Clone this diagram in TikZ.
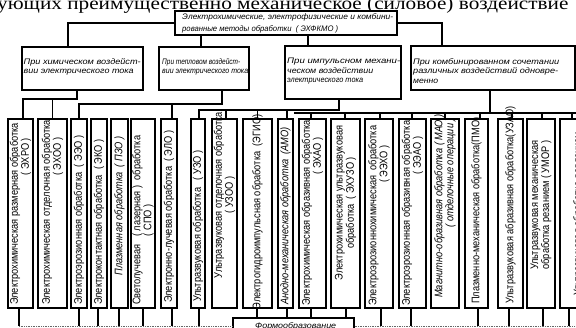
\documentclass[tikz,border=0pt]{standalone}
\usepackage{fontspec}
\usepackage{graphicx}
\setmainfont{Liberation Sans}
\newfontfamily\hdrserif[FakeStretch=1.18]{Liberation Serif}
\newfontfamily\condsans[FakeStretch=0.84]{Liberation Sans}
\newcommand\myvf{\condsans\fontsize{11}{11.2}\selectfont}
\newcommand\myhf{\itshape\fontsize{8}{9.5}\selectfont}
\newcommand\mytf{\itshape\fontsize{8}{12}\selectfont}
\newcommand\fw[2]{\resizebox{#1pt}{\height}{#2}}
\tikzset{
  bx/.style={draw, line width=1.5pt, inner sep=0pt, fill=white},
  ln/.style={line width=1.15pt},
  bl/.style={line width=0.7pt, draw=black!60, densely dotted},
  vt/.style={rotate=90, font=\myvf, inner sep=0pt},
  ht/.style={font=\myhf, align=left, inner sep=0pt, anchor=north west},
}
\newcommand\vbx[3]{\node[bx, minimum width={(#3-#2)*1pt}, minimum height=189pt] (#1) at ({(#2+#3)/2},213.5) {};}
\begin{document}
\begin{tikzpicture}[x=1pt,y=-1pt]
\useasboundingbox (0,0) rectangle (576,327);
\clip (0,0) rectangle (576,327);
\fill[white] (0,0) rectangle (576,327);
% header line (cut)
\node[anchor=base west, inner sep=0pt, font=\hdrserif\fontsize{18}{18}\selectfont] (hdr) at (-3,9) {ующих преимущественно механическое (силовое) воздействие};
% buses
\coordinate (busChem) at (0,99);
\coordinate (busTherm) at (0,104);
\coordinate (busImp) at (0,110);
\coordinate (busComb) at (0,113);
\coordinate (busBot) at (0,326);
% top box
\node[bx, minimum width=222pt, minimum height=24pt] (top) at (286,23) {};
\node[font=\mytf, align=left, inner sep=0pt, anchor=north west] (toptxt) at (182,13.5) {\fw{211}{Электрохимические, электрофизические и комбини-}\\\fw{156}{рованные методы обработки~~( ЭХФКМО )}};
% second level
\node[bx, minimum width=121pt, minimum height=43pt] (b1) at (82.5,68.5) {};
\node[bx, minimum width=90pt, minimum height=43pt] (b2) at (204,68.5) {};
\node[bx, minimum width=116pt, minimum height=53pt] (b3) at (343,72.5) {};
\node[bx, minimum width=164pt, minimum height=44pt] (b4) at (493,68) {};
\node[ht] (t1) at (23.5,58) {\fw{117}{При химическом воздейст-}\\\fw{110}{вии электрического тока}};
\node[ht] (t2) at (162,58) {\fw{78}{При тепловом воздейст-}\\\fw{86}{вии электрического тока}};
\node[ht] (t3) at (287,58) {\fw{113}{При импульсном механи-}\\\fw{86}{ческом воздействии}\\\fw{76}{электрического тока}};
\node[ht] (t4) at (413,58) {\fw{146}{При комбинированном сочетании}\\\fw{145}{различных воздействий одновре-}\\\fw{25}{менно}};
% top connectors
\draw[ln] (top.west) -| ([xshift=-14.5]b1.north);
\draw[ln] (top.east) -| ([xshift=-51]b4.north);
\draw[ln] ([xshift=-3]b2.north) -- ([xshift=-3]b2.north |- top.south);
\draw[ln] ([xshift=-35]b3.north) -- ([xshift=-35]b3.north |- top.south);
% vertical boxes
\vbx{v1}{8}{33}
\vbx{v2}{38}{67}
\vbx{v3}{71}{87}
\vbx{v4}{91}{107}
\vbx{v5}{111}{128}
\vbx{v6}{131}{155}
\vbx{v7}{161}{177}
\vbx{v8}{191}{205}
\vbx{v9}{212}{237}
\vbx{v10}{243}{272}
\vbx{v11}{278}{293}
\vbx{v12}{299}{326}
\vbx{v13}{331}{360}
\vbx{v14}{365}{393}
\vbx{v15}{399}{426}
\vbx{v16}{431}{459}
\vbx{v17}{465}{488}
\vbx{v18}{498}{523}
\vbx{v19}{527}{555}
\vbx{v20}{560}{600}
% vertical texts
\node[vt, anchor=west, align=right] (x1) at (v1 |- 0,305) {Электрохимическая размерная обработка\\( ЭХРО )\hspace*{15pt}};
\node[vt, anchor=west, align=right] (x2) at (v2 |- 0,305) {Электрохимическая отделочная обработка\\( ЭХОО )\hspace*{18pt}};
\node[vt, anchor=west] (x3) at (v3 |- 0,305) {Электроэрозионная обработка~~( ЭЭО )};
\node[vt, anchor=west] (x4) at (v4 |- 0,305) {Электроконтактная обработка~~( ЭКО )};
\node[vt, font=\myvf\itshape] (x5) at (v5 |- 0,206) {Плазменная обработка~~( ПЗО )};
\node[vt, anchor=west, align=center] (x6) at (v6 |- 0,305) {Светолучевая~~~( лазерная )~~обработка\\( СПО )};
\node[vt, anchor=west] (x7) at (v7 |- 0,303) {Электронно-лучевая обработка~~( ЭЛО )};
\node[vt, anchor=west] (x8) at (v8 |- 0,302) {Ультразвуковая обработка~~~( УЗО )};
\node[vt, align=center] (x9) at (v9 |- 0,195) {Ультразвуковая отделочная обработка\\( УЗОО )};
\node[vt] (x10) at (v10 |- 0,212) {Электрогидроимпульсная обработка~~(ЭГИО)};
\node[vt, anchor=west, font=\myvf\itshape] (x11) at (v11 |- 0,305) {Анодно-механическая обработка~~(АМО)};
\node[vt, anchor=west, align=right] (x12) at (v12 |- 0,306) {Электрохимическая образивная обработка\\( ЭХАО )\hspace*{17pt}};
\node[vt, align=center] (x13) at (v13 |- 0,203) {Электрохимическая ультразвуковая\\обработка~~( ЭХУЗО )};
\node[vt, anchor=west, align=right] (x14) at (v14 |- 0,306) {Электроэрозионнохимическая~~обработка\\( ЭЭХО )\hspace*{20pt}};
\node[vt, anchor=west, align=right] (x15) at (v15 |- 0,306) {Электроэрозионная образивная обработка\\( ЭЭАО )\hspace*{16pt}};
\node[vt, anchor=west, align=right, font=\myvf\itshape] (x16) at (v16 |- 0,298) {Магнитно-образивная обработка ( МАО )\\( отделочные операции )\hspace*{4pt}};
\node[vt, anchor=west] (x17) at (v17 |- 0,304) {Плазменно-механическая обработка(ПМО)};
\node[vt, anchor=west] (x18) at (v18 |- 0,304) {Ультразвуковая абразивная обработка(УЗАО)};
\node[vt, align=center] (x19) at (v19 |- 0,205) {Ультразвуковая механическая\\обработка резанием ( УМОР )};
\node[vt, anchor=west, align=center] (x20) at ([xshift=4]v20.center |- 0,296) {Ультразвуковая обработка давлением\\( УМОД )};
% chemical group
\draw[ln] ([xshift=-5.5]b1.south) |- ([xshift=2.5]v1.north |- busChem) -- ([xshift=2.5]v1.north);
\draw[ln] (v2.north) -- (v2.north |- busChem);
% thermal group
\draw[ln] ([xshift=18]b2.south) |- (v3.north |- busTherm) -- (v3.north);
\draw[ln] ([xshift=3]v7.north) -- ([xshift=3]v7.north |- busTherm);
% impulse group
\draw[ln] ([xshift=-4]b3.south) |- ([xshift=1]v8.north |- busImp) -- ([xshift=1]v8.north);
\draw[ln] ([xshift=1.5]v9.north) -- ([xshift=1.5]v9.north |- busImp);
\draw[ln] (v10.north) -- (v10.north |- busImp);
\draw[ln] ([xshift=1.5]v11.north) -- ([xshift=1.5]v11.north |- busImp);
% combined group
\coordinate (combEnd) at (580,113);
\draw[ln] ([xshift=-3]b4.south) -- ([xshift=-3]b4.south |- busComb);
\draw[ln] (v11.north east |- busComb) -- (combEnd);
\foreach \v/\s in {v12/-1.5, v13/-0.5, v14/1, v15/-0.5, v16/0, v17/3.5, v18/1.5, v19/1, v20/-8}
  \draw[ln] ([xshift=\s]\v.north) -- ([xshift=\s]\v.north |- busComb);
% bottom
\node[bx, minimum width=121pt, minimum height=24pt, anchor=north west] (form) at (232,317) {};
\node[anchor=base west, inner sep=0pt, font=\itshape\fontsize{8}{9}\selectfont] (formtxt) at (255,328) {\fw{81}{Формообразование}};
\coordinate (botEnd) at (580,326);
\draw[bl] ([xshift=-1.5]v1.south |- busBot) -- (form.west |- busBot);
\draw[bl] (form.east |- busBot) -- (botEnd);
\foreach \v/\s in {v1/-1.5, v3/0, v4/-1, v5/-0.5, v6/0, v7/3, v8/1, v14/2, v15/-1.5, v17/1.5, v18/-1.5, v19/2, v20/-11}
  \draw[ln] ([xshift=\s]\v.south) -- ([xshift=\s]\v.south |- busBot);
\foreach \v/\s in {v10/-0.5, v11/1.5, v12/-1.5, v13/0.5}
  \draw[ln] ([xshift=\s]\v.south) -- ([xshift=\s]\v.south |- form.north);
\end{tikzpicture}
\end{document}
